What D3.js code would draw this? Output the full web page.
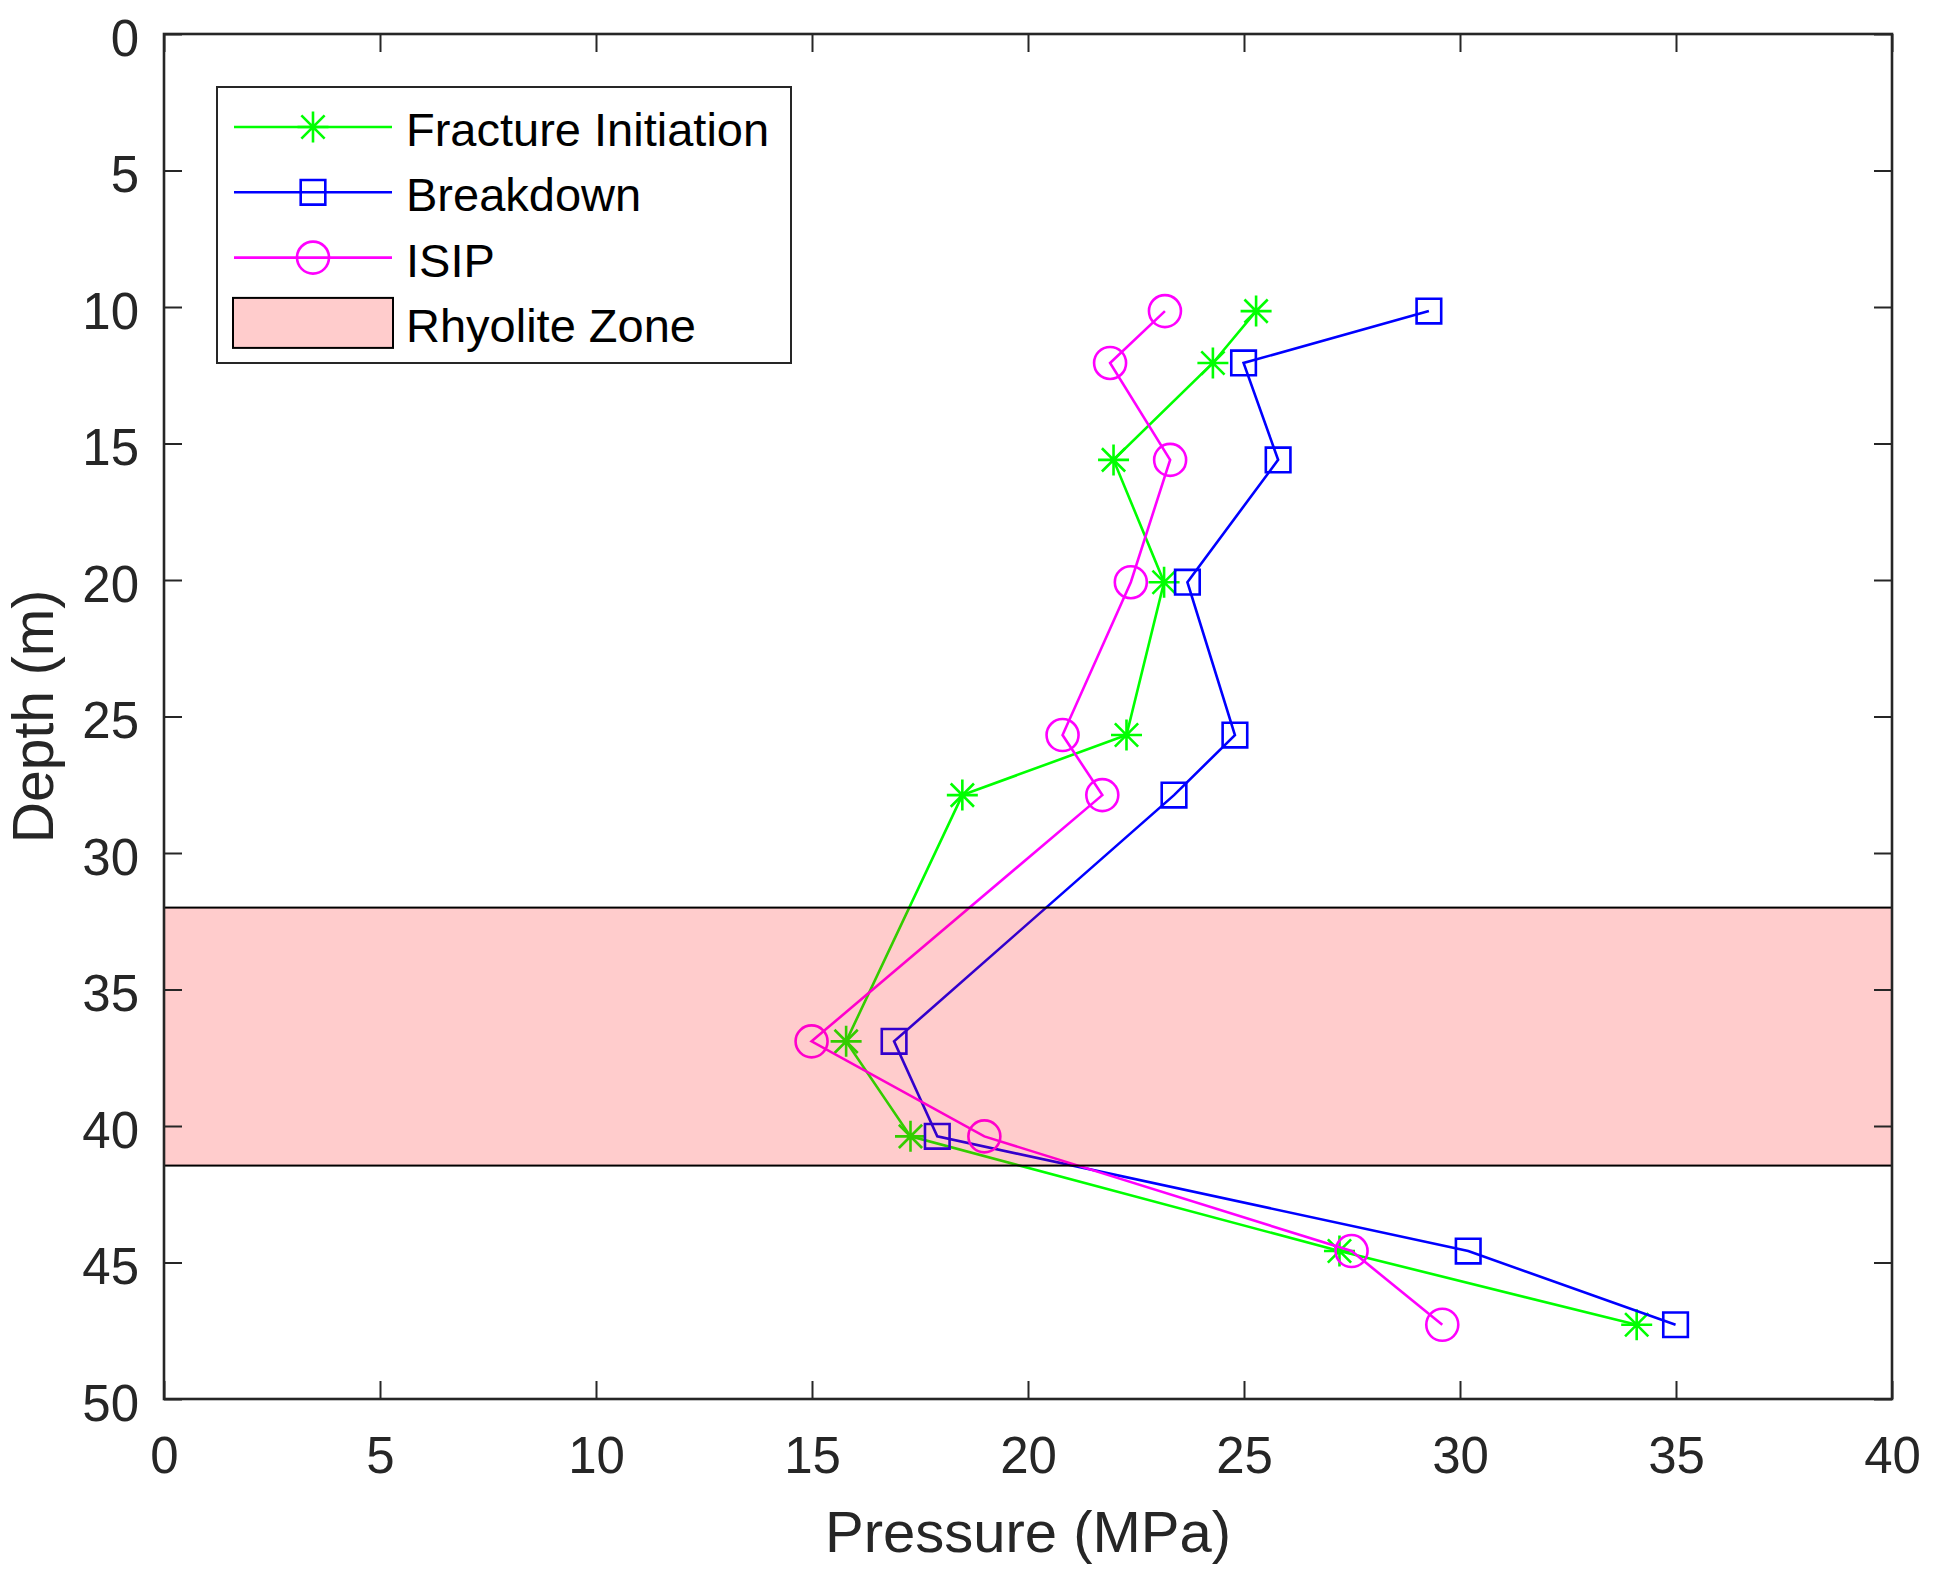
<!DOCTYPE html>
<html>
<head>
<meta charset="utf-8">
<script src="https://cdn.jsdelivr.net/npm/d3@7"></script>
<style>
  body { margin: 0; background: #fff; }
  svg { display: block; font-family: "Liberation Sans", Arial, sans-serif; }
</style>
</head>
<body>
<svg id="chart"></svg>
<script>
// depth of each test interval (m)
var depths = [10.15, 12.05, 15.6, 20.08, 25.68, 27.88, 36.9, 40.38, 44.58, 47.28];

// pressures (MPa)
var fractureInitiation = [25.28, 24.28, 21.98, 23.15, 22.28, 18.48, 15.79, 17.28, 27.21, 34.09];
var breakdown = [29.28, 24.99, 25.79, 23.69, 24.79, 23.38, 16.9, 17.9, 30.19, 34.99];
var isip = [23.17, 21.9, 23.29, 22.38, 20.8, 21.72, 14.99, 18.99, 27.49, 29.59];

// rhyolite zone depth range (m)
var rhyoliteZone = [32.0, 41.45];

var xTicks = [0, 5, 10, 15, 20, 25, 30, 35, 40];
var yTicks = [0, 5, 10, 15, 20, 25, 30, 35, 40, 45, 50];

var series = [
    {name: "Fracture Initiation", values: fractureInitiation, color: "#00ff00", marker: "star"},
    {name: "Breakdown", values: breakdown, color: "#0000ff", marker: "square"},
    {name: "ISIP", values: isip, color: "#ff00ff", marker: "circle"}
];

var margin = {top: 34, right: 43, bottom: 192, left: 164},
    width = 1935 - margin.left - margin.right,
    height = 1591 - margin.top - margin.bottom;

var axisColor = "#262626";

var svg = d3.select("#chart")
    .attr("width", 1935)
    .attr("height", 1591)
    .append("g")
    .attr("transform", "translate(" + margin.left + "," + margin.top + ")");

var x = d3.scaleLinear().domain([0, 40]).range([0, width]);
var y = d3.scaleLinear().domain([0, 50]).range([0, height]); // depth increases downward

// marker path for a given type, centred on 0,0
function markerPath(type) {
    var p = d3.path();
    if (type === "star") {
        var r = 15.5, d = r * 0.75;
        p.moveTo(-r, 0); p.lineTo(r, 0);
        p.moveTo(0, -r); p.lineTo(0, r);
        p.moveTo(-d, -d); p.lineTo(d, d);
        p.moveTo(-d, d); p.lineTo(d, -d);
    } else if (type === "square") {
        var s = 12.3;
        p.rect(-s, -s, 2 * s, 2 * s);
    } else {
        p.arc(0, 0, 16, 0, 2 * Math.PI);
        p.closePath();
    }
    return p.toString();
}

// lines and markers
var line = d3.line()
    .x(function(d) { return x(d.p); })
    .y(function(d) { return y(d.z); });

series.forEach(function(s) {
    var pts = s.values.map(function(v, i) { return {p: v, z: depths[i]}; });
    var g = svg.append("g");
    g.append("path")
        .datum(pts)
        .attr("d", line)
        .attr("fill", "none")
        .attr("stroke", s.color)
        .attr("stroke-width", 2.6);
    g.selectAll(".mk")
        .data(pts)
        .enter().append("path")
        .attr("transform", function(d) { return "translate(" + x(d.p) + "," + y(d.z) + ")"; })
        .attr("d", markerPath(s.marker))
        .attr("fill", "none")
        .attr("stroke", s.color)
        .attr("stroke-width", 2.6);
});

// rhyolite zone patch (semi-transparent red, drawn over the lines)
svg.append("rect")
    .attr("x", x(0))
    .attr("y", y(rhyoliteZone[0]))
    .attr("width", x(40) - x(0))
    .attr("height", y(rhyoliteZone[1]) - y(rhyoliteZone[0]))
    .attr("fill", "#ff0000")
    .attr("fill-opacity", 0.2)
    .attr("stroke", "#000")
    .attr("stroke-width", 2);

// axes with inward ticks on all four sides
function styleAxis(g) {
    g.select(".domain").remove();
    g.selectAll(".tick line").attr("stroke", axisColor).attr("stroke-width", 2);
    g.selectAll(".tick text").attr("fill", axisColor).style("font-size", "51px");
}

svg.append("g")
    .attr("transform", "translate(0," + height + ")")
    .call(d3.axisBottom(x).tickValues(xTicks).tickSizeInner(-18).tickSizeOuter(0).tickPadding(38))
    .call(styleAxis);

svg.append("g")
    .call(d3.axisTop(x).tickValues(xTicks).tickSizeInner(-18).tickSizeOuter(0).tickFormat(""))
    .call(styleAxis);

svg.append("g")
    .call(d3.axisLeft(y).tickValues(yTicks).tickSizeInner(-18).tickSizeOuter(0).tickPadding(25))
    .call(styleAxis)
    .call(g => g.selectAll(".tick text").attr("dy", "0.42em"));

svg.append("g")
    .attr("transform", "translate(" + width + ",0)")
    .call(d3.axisRight(y).tickValues(yTicks).tickSizeInner(-18).tickSizeOuter(0).tickFormat(""))
    .call(styleAxis);

// plot frame
svg.append("rect")
    .attr("width", width)
    .attr("height", height)
    .attr("fill", "none")
    .attr("stroke", axisColor)
    .attr("stroke-width", 2.6);

// axis labels
svg.append("text")
    .attr("x", width / 2)
    .attr("y", 1552 - margin.top)
    .attr("text-anchor", "middle")
    .attr("fill", axisColor)
    .style("font-size", "58px")
    .text("Pressure (MPa)");

svg.append("text")
    .attr("transform", "translate(" + (53 - margin.left) + "," + (height / 2) + ") rotate(-90)")
    .attr("text-anchor", "middle")
    .attr("fill", axisColor)
    .style("font-size", "57px")
    .text("Depth (m)");

// legend
var legend = svg.append("g")
    .attr("transform", "translate(" + (217 - margin.left) + "," + (87 - margin.top) + ")");

legend.append("rect")
    .attr("width", 574)
    .attr("height", 276)
    .attr("fill", "#fff")
    .attr("stroke", axisColor)
    .attr("stroke-width", 2);

series.forEach(function(s, i) {
    var ly = 40 + i * 65.3;
    legend.append("line")
        .attr("x1", 17).attr("x2", 175)
        .attr("y1", ly).attr("y2", ly)
        .attr("stroke", s.color)
        .attr("stroke-width", 2.6);
    legend.append("path")
        .attr("transform", "translate(96," + ly + ")")
        .attr("d", markerPath(s.marker))
        .attr("fill", "none")
        .attr("stroke", s.color)
        .attr("stroke-width", 2.6);
    legend.append("text")
        .attr("x", 189)
        .attr("y", ly + 19)
        .attr("fill", "#000")
        .style("font-size", "47px")
        .text(s.name);
});

var py = 40 + 3 * 65.3;
legend.append("rect")
    .attr("x", 16).attr("y", py - 25)
    .attr("width", 160).attr("height", 50)
    .attr("fill", "#ffcccc")
    .attr("stroke", "#000")
    .attr("stroke-width", 2);
legend.append("text")
    .attr("x", 189)
    .attr("y", py + 19)
    .attr("fill", "#000")
    .style("font-size", "47px")
    .text("Rhyolite Zone");
</script>
</body>
</html>
